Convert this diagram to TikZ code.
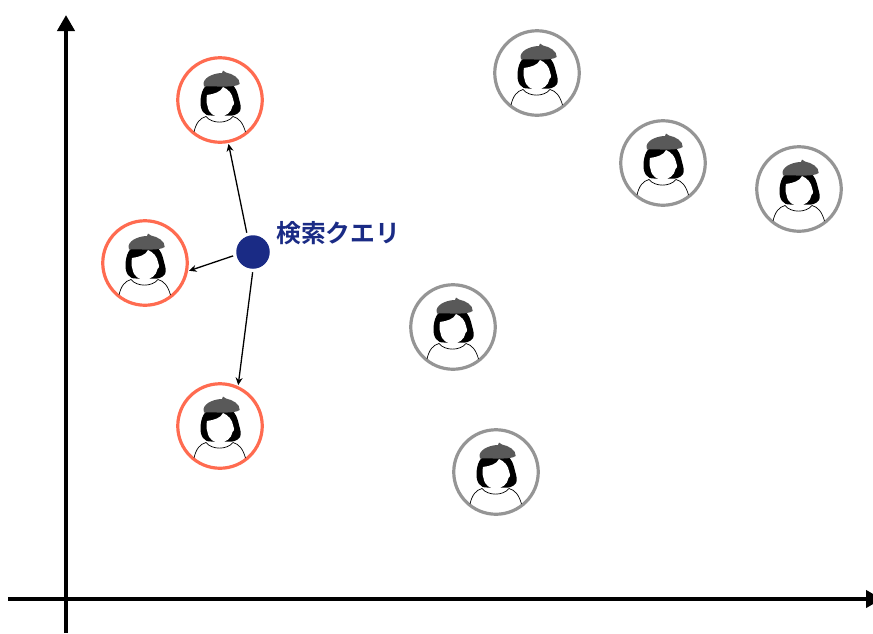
\documentclass[tikz,border=0pt]{standalone}
\usepackage{fontspec}
\newfontfamily\cjkfont{Noto Sans CJK JP}[BoldFont={Noto Sans CJK JP Bold}]
\usetikzlibrary{arrows.meta}

\definecolor{hitred}{HTML}{FF6B50}
\definecolor{othergray}{HTML}{959595}
\definecolor{querynavy}{HTML}{1A2B85}
\definecolor{beretgray}{HTML}{595959}

\tikzset{
    axisline/.style={line width=4pt, -{Triangle[length=16pt, width=17pt]}},
    hitarrow/.style={line width=1.3pt, -{Stealth[length=7.5pt, width=7pt]}},
    hitperson/.style={circle, draw=hitred, line width=3.2pt, minimum size=84.5pt, inner sep=0pt, outer sep=2.5pt},
    otherperson/.style={circle, draw=othergray, line width=3.2pt, minimum size=84.5pt, inner sep=0pt},
    querydot/.style={circle, fill=querynavy, minimum size=33.5pt, inner sep=0pt, outer sep=3.5pt},
    querylabel/.style={anchor=west, text=querynavy, inner sep=0pt, font=\cjkfont\bfseries\fontsize{24.8}{24.8}\selectfont},
    person/.pic={
        % Hair
        \fill[black] (-9,15.5) .. controls (-16,16) and (-20,10) .. (-19.5,1)
            .. controls (-19,-8) and (-16,-16) .. (-8,-17)
            -- (10,-17) .. controls (16,-14) and (18,-6) .. (19,-1)
            .. controls (20.5,4) and (21.5,8) .. (20,11)
            .. controls (17,15) and (13,16) .. (9,15.5) -- cycle;
        % Face and neck
        \fill[white] (-4,10) -- (4,10) -- (5,20) -- (-5,20) -- cycle;
        \fill[white] (-13,-5) .. controls (-6,-6) and (1,-8) .. (3,-13)
            .. controls (8,-11) and (12.5,-6) .. (13,-1)
            .. controls (14.5,1) and (14.5,5) .. (12.5,6)
            .. controls (10.5,19) and (-10.5,21) .. (-12.5,6)
            .. controls (-14,2) and (-13.5,-2) .. (-13,-5) -- cycle;
        % Beret
        \fill[beretgray] (-16.5,-17) .. controls (-15,-24) and (-4,-27) .. (2,-27)
            -- (3,-29.5) -- (6,-27.5) .. controls (13,-26) and (20,-22) .. (19.7,-16)
            .. controls (14,-12) and (-1,-14) .. (-16,-13.5)
            .. controls (-16.5,-15) and (-16.5,-16) .. (-16.5,-17) -- cycle;
        % Shoulders and collar
        \draw[line width=0.7pt] (-26,32) .. controls (-24,23) and (-20,18) .. (-14,16.5)
            .. controls (-8,24) and (7,24) .. (13,16.5)
            .. controls (19,18) and (23,23) .. (25.5,32);
    }
}

\begin{document}
\begin{tikzpicture}[x=1pt, y=-1pt]
    \useasboundingbox (0,0) rectangle (873,633);

    \coordinate (Ybottom) at (66,633);
    \coordinate (Ytop) at (66,15);
    \coordinate (Xleft) at (8,599);
    \coordinate (Xright) at (882,599);

    % Draw the axes
    \draw[axisline] (Ybottom) -- (Ytop);
    \draw[axisline] (Xleft) -- (Xright);

    % Draw the people near the query
    \node[hitperson] (hitA) at (220,100) {};
    \node[hitperson] (hitB) at (145,263) {};
    \node[hitperson] (hitC) at (220,426) {};

    % Draw the other people
    \node[otherperson] (otherA) at (537,73) {};
    \node[otherperson] (otherB) at (663,163) {};
    \node[otherperson] (otherC) at (799,189) {};
    \node[otherperson] (otherD) at (453,327) {};
    \node[otherperson] (otherE) at (496,472) {};

    \foreach \who in {hitA,hitB,hitC,otherA,otherB,otherC,otherD,otherE}
        \pic at (\who) {person};

    % Query point and its label
    \node[querydot] (query) at (253,252) {};
    \node[querylabel] (querytext) at (276,233.5) {検索クエリ};

    % Draw the arrows
    \draw[hitarrow] (query.108) -- (hitA.-79);
    \draw[hitarrow] (query.191) -- (hitB.-10);
    \draw[hitarrow] (query.-91) -- (hitC.66);
\end{tikzpicture}
\end{document}
